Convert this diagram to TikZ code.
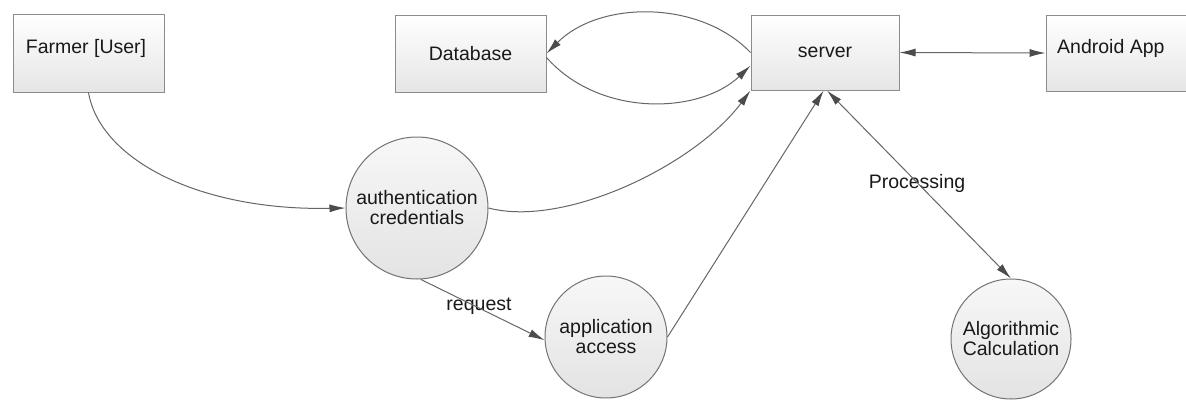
\documentclass[tikz,border=0pt]{standalone}
\usepackage{fontspec}
\setmainfont{Liberation Sans}
\usetikzlibrary{arrows.meta}
\begin{document}
\begin{tikzpicture}[x=1pt,y=-1pt,
  font=\fontsize{19.5}{20}\selectfont,
  box/.style={draw=black!45, line width=1pt, rectangle, inner sep=0pt, top color=white, bottom color=black!10, text=black!90},
  proc/.style={draw=black!55, line width=1pt, circle, inner sep=0pt, top color=black!3, bottom color=black!11, align=center, text=black!90},
  flow/.style={draw=black!60, line width=1pt, -{Latex[length=16pt,width=8pt,black!70]}},
  both/.style={draw=black!60, line width=1pt, {Latex[length=16pt,width=8pt,black!70]}-{Latex[length=16pt,width=8pt,black!70]}},
  lbl/.style={inner sep=0pt, text=black!90}]
\useasboundingbox (0,0) rectangle (1186,399);
\fill[white] (0,0) rectangle (1186,399);

% boxes
\node[box, minimum width=151pt, minimum height=78pt] (farmer) at (88.5,53) {};
\node[lbl] (farmertxt) at (86,48) {Farmer [User]};
\node[box, minimum width=151pt, minimum height=77pt] (database) at (470.5,53.5) {Database};
\node[box, minimum width=148pt, minimum height=75pt] (server) at (825,52.5) {server};
\node[box, minimum width=150pt, minimum height=76pt] (android) at (1121,53) {};
\node[lbl, anchor=west] (androidtxt) at (1057,48) {Android App};

% processes
\node[proc, minimum size=142pt] (auth) at (417,208) {authentication\\credentials};
\node[proc, minimum size=122pt] (app) at (606,337) {application\\access};
\node[proc, minimum size=120pt] (algo) at (1011,339) {Algorithmic\\Calculation};

% labels
\node[lbl] (reqlbl) at (479,306) {request};
\node[lbl] (proclbl) at (917,183) {Processing};

% connectors
\draw[flow] (farmer.south) .. controls (100,160) and (200,211) .. (auth.west);
\draw[flow] (auth.east) .. controls (565,228) and (695,165) .. (server.south west);
\draw[flow] (server.west) .. controls (700,0) and (600,0) .. (database.east);
\draw[flow] (database.-3) .. controls (600,118) and (700,114) .. (server.190);
\draw[both] (server.east) -- (android.west);
\draw[flow] (app.east) -- (server.-92);
\draw[both] (server.-87) -- (algo.north);
\draw[flow] (auth.-87) -- (app.183);
\end{tikzpicture}
\end{document}
